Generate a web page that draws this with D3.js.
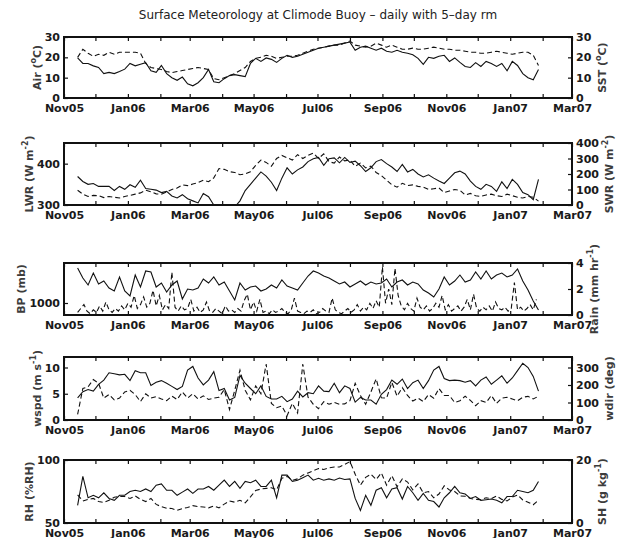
<!DOCTYPE html>
<html>
<head>
<meta charset="utf-8">
<script src="https://cdn.jsdelivr.net/npm/d3@7"></script>
<style>
  body { margin: 0; background: #fff; }
  text { font-family: "DejaVu Sans", sans-serif; }
</style>
</head>
<body>
<div id="chart"></div>
<script>
const seriesStart = Date.UTC(2005, 10, 14), seriesStep = 5;
const rainStart = Date.UTC(2005, 10, 14), rainStep = 3;

const airTemp = [19.7,17,17,15.8,15,12,12.6,12,13,14.2,
  17,15.8,16.6,17.4,13.4,12.6,16,12,10,8.7,
  10.3,7,6,7.5,10,14,8,7.5,9.5,11,
  11.5,11,10.5,17,19.5,18,19.7,19,17.5,19.5,
  21,20,20.5,21.5,22.5,23.5,24.5,25,25.5,26,
  26.5,27,27.5,23.5,25,25.5,24.5,23.5,24.5,23,
  22.5,23.5,22.5,22,21.3,19.5,16.5,20,19.5,20.5,
  21,18,19.7,17.5,15.5,15,17.4,15.5,18,17,
  15.5,17,13.4,18,16,12,10,9,14];
const seaTemp = [20,24,22,20.5,21.5,21,22.5,21.5,22.5,22.5,
  22.5,22.5,22,17,15,14.5,14,13,12.5,13,
  13.5,14,14.5,15,14.5,14,9.5,9,10,11,
  12,13.5,15,18,19.5,20,21,20.5,19.5,20,
  20.5,20.5,21,22,23,24,24.5,25,25.5,26,
  26,27,28,26,25.5,25,25.5,27,26,25,
  26,25,24,24,24.5,24,24,24.5,25,24.5,
  24,24,23.5,23.5,23,22.5,22.5,22,22,22.5,
  23,22.5,22,21.5,22,22.5,22.5,21,16];
const longwave = [369,357,350,352,345,345,345,335,345,338,
  349,343,360,340,338,336,330,333,322,317,
  325,315,310,305,328,320,300,290,285,290,
  295,310,335,350,365,380,370,355,335,365,
  390,375,385,392,405,412,415,396,412,414,
  402,415,403,406,395,381,390,405,410,400,
  392,381,398,380,386,375,368,373,365,358,
  352,365,378,382,375,358,345,338,350,345,
  333,356,340,362,350,330,325,313,362];
const shortwave = [95,70,55,62,60,48,55,50,45,55,
  62,70,78,95,85,72,70,85,100,110,
  130,125,135,145,160,150,175,235,230,215,
  210,195,200,215,255,290,275,250,300,320,
  305,290,325,300,320,335,300,330,280,270,
  310,285,290,250,270,240,250,210,190,160,
  130,115,140,125,130,120,115,100,105,110,
  80,90,100,95,65,75,60,55,65,70,
  60,55,70,60,50,45,55,50,25];
const pressure = [1035,1025,1018,1030,1019,1022,1015,1012,1026,1012,
  1007,1028,1016,1032,1031,1016,1020,1011,1018,1022,
  1004,1014,1013,1015,1024,1020,1026,1018,1021,1012,
  1003,1020,1013,1016,1017,1012,1014,1018,1015,1023,
  1017,1015,1013,1020,1027,1032,1030,1027,1025,1022,
  1019,1021,1016,1019,1022,1018,1021,1019,1020,1024,
  1016,1021,1023,1018,1021,1019,1013,1010,1006,1014,
  1026,1018,1022,1028,1021,1023,1031,1024,1032,1024,
  1028,1030,1026,1028,1034,1022,1013,1002,993];
const rain = [0.2,0.5,0.8,0.3,0.1,0.4,0.2,0.7,0.3,1.0,
  0.4,0.2,0.5,0.3,0.7,0.4,0.9,0.6,1.5,0.5,
  0.8,1.4,0.6,0.9,1.9,0.7,1.5,0.4,0.8,0.5,
  3.3,0.6,0.3,0.7,0.4,0.5,1.2,0.3,0.6,0.2,
  0.4,1.0,0.3,0.2,0.5,0.3,0.1,0.7,0.3,0.4,
  0.2,0.5,0.3,1.1,1.6,0.4,1.0,0.3,1.2,0.2,
  0.3,0.1,0.4,0.2,0.3,0.5,0.2,0.1,0.4,1.3,
  0.3,0.2,0.1,0.3,0.2,0.4,0.1,0.2,0.5,0.3,
  0.2,1.3,0.4,0.2,0.1,0.3,0.5,0.2,0.4,0.8,
  0.3,0.6,0.4,0.9,0.5,1.1,0.6,3.7,0.9,2.0,
  0.8,3.6,1.5,0.7,0.4,0.9,0.5,0.3,1.3,0.6,
  0.4,0.7,0.3,0.5,0.9,0.6,1.5,0.4,0.8,0.3,
  0.5,0.7,0.3,0.6,1.2,0.4,1.6,0.5,0.3,0.6,
  0.4,0.7,0.3,1.0,0.5,0.4,0.6,0.3,0.5,2.5,
  0.4,0.6,0.3,0.5,0.8,0.4,1.2];
const windSpeed = [4.2,5.4,5.8,5.5,6.8,7.6,9,8.8,8.6,8.7,
  7.5,9.4,9,9,6.6,7.2,7.5,7,6.4,5.8,
  6.4,9.5,10.2,8,6.7,7.6,9.2,5.6,6,3.8,
  4.3,8.5,7,6,5,6.5,4.5,4,4,4.5,
  3.5,4,5.5,4.4,5.2,5,6.5,5.5,5.4,7,
  5.2,6.5,6,3.4,4.3,3.8,3.8,3,4.9,5.8,
  7.6,6.8,7.8,6,7.1,7.6,6,7.5,9.5,10.2,
  7.9,7.5,7.6,7.5,7.2,7.5,6.5,7.6,8.2,6.8,
  7.6,8.4,7,8,9.4,10.8,10,8.3,5.5];
const windDir = [32,180,190,231,210,125,146,115,125,160,
  170,145,105,150,125,134,120,110,137,117,
  160,125,150,120,138,117,125,130,174,60,
  170,285,170,115,195,150,320,95,70,80,
  25,95,40,320,130,90,65,105,90,100,
  90,92,110,210,140,90,160,235,127,125,
  215,136,185,140,108,125,105,145,125,180,
  140,140,100,110,136,112,82,110,100,140,
  95,125,130,120,110,130,135,120,136];
const relHum = [64,87,70,72,70,74,69.5,68,72,72,
  75,76,75,77,75,80,81,76,76,72,
  74.5,77,73.5,77,77,79,76,80,84,79,
  83,77.5,83,82,84,79,79,84,70,88,
  88,83,84,86,88,84,85.5,84,85,84,
  85.7,84.5,85,69.5,60,72,64,76,78,70,
  77,78,69,79,74,68,73.5,68,67,62.7,
  70,74,79,74,73,69.5,71,68,68.5,69,
  68,66,71,71,76,75,74,76,83];
const specHum = [8.9,7,7.5,7.8,6.8,6.5,7.2,8.2,8.4,8.4,
  7.8,8.6,7.5,6.8,7.8,5.9,5.2,4.7,4.6,4,
  4.6,4.9,5.5,5.2,5.1,4.8,5.4,4.8,6,7,
  6.6,7.2,6.4,8.3,10.3,10.8,11,11.2,10.5,14.2,
  14.8,13.5,14,15.2,15.9,16.6,17.3,17,17.5,17.8,
  17.8,18.6,19.5,15.5,12,14.5,15.5,13.8,15.9,12,
  15,11.5,14,13,10.5,12.4,9.6,10,8,9.2,
  11.8,10.5,10,8.6,8.5,7.8,7.5,7.4,8,7.7,
  8.6,7.5,7,8.2,8.9,7.3,6.6,5.8,7.2];

// x tick labels, one per month tick (blank on the odd months)
const xTickLabels = ["Nov05","","Jan06","","Mar06","","May06","","Jul06","","Sep06","","Nov06","","Jan07","","Mar07"];

const width = 622, height = 538;
const left = 64, right = 572;

const svg = d3.select("#chart").append("svg")
    .attr("width", width)
    .attr("height", height);

const x = d3.scaleUtc()
    .domain([Date.UTC(2005, 10, 1), Date.UTC(2007, 2, 1)])
    .range([left, right]);
const monthTicks = d3.utcMonth.range(Date.UTC(2005, 10, 1), Date.UTC(2007, 2, 2));

const dateAt = (start, step, i) => d3.utcDay.offset(new Date(start), i * step);

// superscripts are marked with 1
const panels = [
  {top: 37, bottom: 98,
   left:  {values: airTemp, domain: [0, 30], ticks: [0, 10, 20, 30], title: [["Air (", 0], ["o", 1], ["C)", 0]]},
   right: {values: seaTemp, domain: [0, 30], ticks: [0, 10, 20, 30], title: [["SST (", 0], ["o", 1], ["C)", 0]]}},
  {top: 143, bottom: 205,
   left:  {values: longwave, domain: [300, 450], ticks: [300, 400], title: [["LWR (W m", 0], ["-2", 1], [")", 0]]},
   right: {values: shortwave, domain: [0, 400], ticks: [0, 100, 200, 300, 400], title: [["SWR (W m", 0], ["-2", 1], [")", 0]]}},
  {top: 263, bottom: 315,
   left:  {values: pressure, domain: [988, 1040], ticks: [1000], title: [["BP (mb)", 0]]},
   right: {values: rain, domain: [0, 4], ticks: [0, 2, 4], title: [["Rain (mm hr", 0], ["-1", 1], [")", 0]], start: rainStart, step: rainStep}},
  {top: 357, bottom: 420,
   left:  {values: windSpeed, domain: [0, 12], ticks: [0, 5, 10], title: [["wspd (m s", 0], ["-1", 1], [")", 0]]},
   right: {values: windDir, domain: [0, 360], ticks: [0, 100, 200, 300], title: [["wdir (deg)", 0]]}},
  {top: 460, bottom: 523,
   left:  {values: relHum, domain: [50, 100], ticks: [50, 100], title: [["RH (%RH)", 0]]},
   right: {values: specHum, domain: [0, 20], ticks: [0, 20], title: [["SH (g kg", 0], ["-1", 1], [")", 0]]}}
];

svg.append("text")
    .attr("x", (left + right) / 2)
    .attr("y", 19)
    .attr("text-anchor", "middle")
    .attr("font-size", 12)
    .attr("fill", "#222")
    .text("Surface Meteorology at Climode Buoy \u2013 daily with 5\u2013day rm");

function axisTitle(g, parts, xPos, yPos) {
    const t = g.append("text")
        .attr("transform", `translate(${xPos},${yPos}) rotate(-90)`)
        .attr("text-anchor", "middle")
        .attr("font-size", 11)
        .attr("font-weight", "bold")
        .attr("fill", "#3c3c3c");
    let shift = 0;
    parts.forEach(([s, sup]) => {
        const target = sup ? -5 : 0;
        t.append("tspan")
            .attr("dy", target - shift)
            .attr("font-size", sup ? 8 : 11)
            .text(s);
        shift = target;
    });
    return t;
}

panels.forEach((p, k) => {
    const g = svg.append("g");
    const yL = d3.scaleLinear().domain(p.left.domain).range([p.bottom, p.top]);
    const yR = d3.scaleLinear().domain(p.right.domain).range([p.bottom, p.top]);

    g.append("clipPath").attr("id", "clip" + k)
      .append("rect")
        .attr("x", left).attr("y", p.top)
        .attr("width", right - left).attr("height", p.bottom - p.top);

    const drawLine = (side, yScale, dashed) => {
        const start = side.start || seriesStart, step = side.step || seriesStep;
        const line = d3.line()
            .x((v, i) => x(dateAt(start, step, i)))
            .y(v => yScale(v));
        g.append("path")
            .attr("clip-path", `url(#clip${k})`)
            .attr("d", line(side.values))
            .attr("fill", "none")
            .attr("stroke", "#111")
            .attr("stroke-width", 1.1)
            .attr("stroke-dasharray", dashed ? "5,3" : null);
    };
    drawLine(p.left, yL, false);
    drawLine(p.right, yR, true);

    // ticks pointing inward on all four sides
    const xb = g.append("g").attr("transform", `translate(0,${p.bottom})`)
        .call(d3.axisBottom(x).tickValues(monthTicks).tickSize(-4).tickPadding(6)
            .tickFormat((d, i) => xTickLabels[i]));
    const xt = g.append("g").attr("transform", `translate(0,${p.top})`)
        .call(d3.axisTop(x).tickValues(monthTicks).tickSize(-4).tickFormat(""));
    const yl = g.append("g").attr("transform", `translate(${left},0)`)
        .call(d3.axisLeft(yL).tickValues(p.left.ticks).tickSize(-4).tickPadding(4).tickFormat(d3.format("d")));
    const yr = g.append("g").attr("transform", `translate(${right},0)`)
        .call(d3.axisRight(yR).tickValues(p.right.ticks).tickSize(-4).tickPadding(4).tickFormat(d3.format("d")));

    [xb, xt, yl, yr].forEach(a => {
        a.select(".domain").remove();
        a.selectAll("line").attr("stroke", "#111").attr("stroke-width", 1.2);
        a.selectAll("text")
            .attr("font-size", 11)
            .attr("font-weight", "bold")
            .attr("font-family", "DejaVu Sans, sans-serif")
            .attr("fill", "#1a1a1a");
    });

    g.append("rect")
        .attr("x", left).attr("y", p.top)
        .attr("width", right - left).attr("height", p.bottom - p.top)
        .attr("fill", "none")
        .attr("stroke", "#111")
        .attr("stroke-width", 2);

    const mid = (p.top + p.bottom) / 2;
    const lBox = yl.node().getBBox();
    axisTitle(g, p.left.title, left + lBox.x - 4, mid);
    const rBox = yr.node().getBBox();
    axisTitle(g, p.right.title, right + rBox.x + rBox.width + 14, mid);
});
</script>
</body>
</html>
